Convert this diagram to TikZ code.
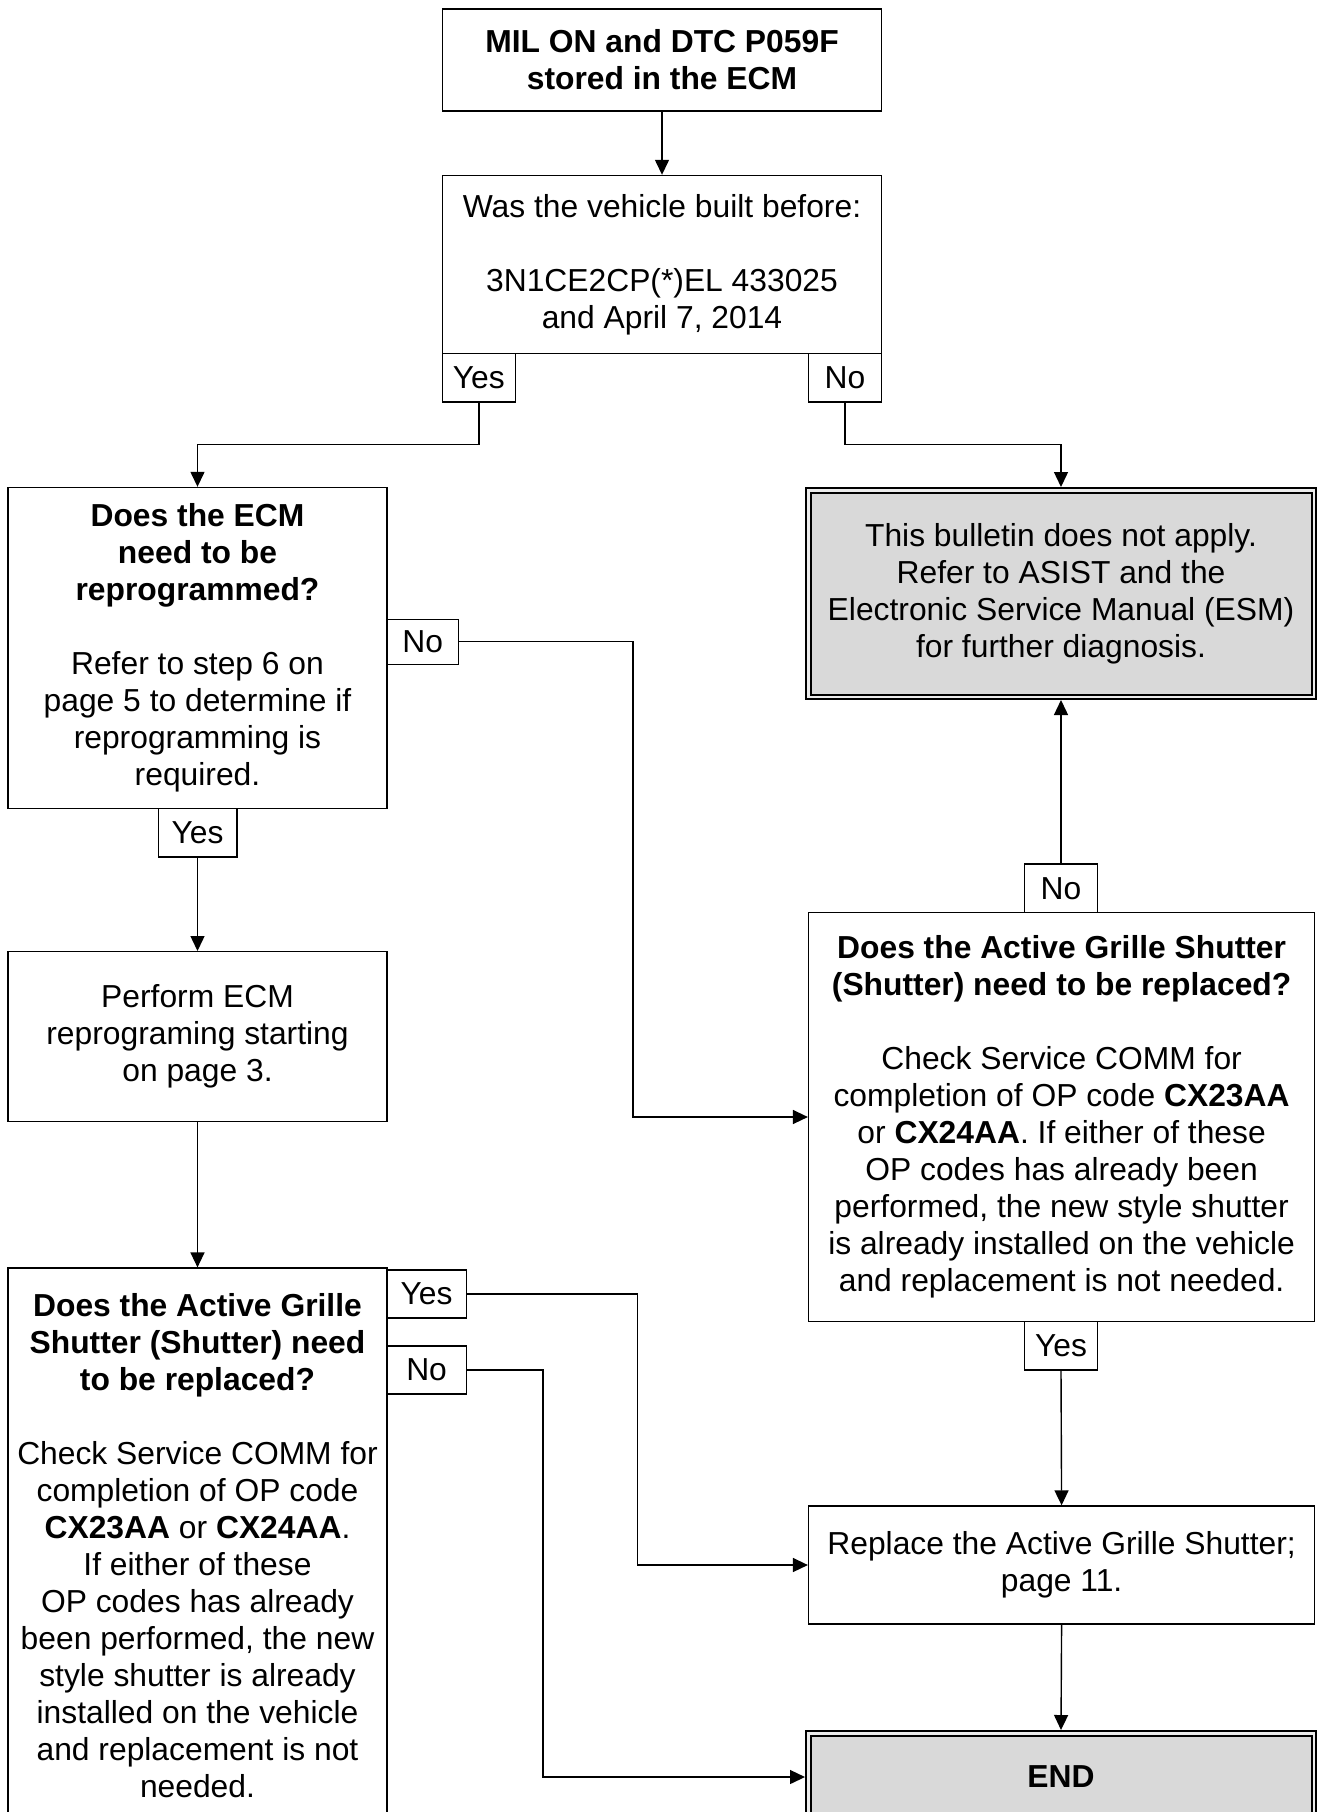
\documentclass[tikz,border=0pt]{standalone}
\usepackage{fontspec}
\setmainfont{Liberation Sans}
\usetikzlibrary{arrows.meta}
\definecolor{boxgray}{RGB}{217,217,217}
\begin{document}
\begin{tikzpicture}[x=1pt,y=-1pt,
  every node/.style={font=\fontsize{31.8}{37}\selectfont},
  bx/.style={draw,line width=1.4pt,rectangle,inner sep=0pt,align=center},
  lbl/.style={draw,line width=1.4pt,rectangle,inner sep=0pt,fill=white},
  gbx/.style={draw,line width=2pt,double=gray!15,double distance=2.5pt,fill=boxgray,inner sep=0pt,align=center,outer sep=3.25pt},
  arr/.style={line width=1.4pt,-{Triangle[length=15pt,width=14pt]}},
  ln/.style={line width=1.4pt}]
\clip (0,0) rectangle (1318,1812);
\fill[white] (0,0) rectangle (1318,1812);
% boxes
\node[bx,minimum width=439,minimum height=102] (top) at (662,60) {\textbf{MIL ON and DTC P059F}\\\textbf{stored in the ECM}};
\node[bx,minimum width=439,minimum height=178] (box2) at (662,264.5) {Was the vehicle built before:\\[37pt]3N1CE2CP(*)EL 433025\\and April 7, 2014};
\node[lbl,minimum width=73,minimum height=48.5] (yes1) at (478.8,377.8) {Yes};
\node[lbl,minimum width=73,minimum height=48.5] (no1) at (845,377.8) {No};
\node[bx,minimum width=379,minimum height=321] (box3) at (197.5,648) {\textbf{Does the ECM}\\\textbf{need to be}\\\textbf{reprogrammed?}\\[37pt]Refer to step 6 on\\page 5 to determine if\\reprogramming is\\required.};
\node[lbl,minimum width=71.6,minimum height=45] (no2) at (422.8,641.7) {No};
\node[lbl,minimum width=78.6,minimum height=48.5] (yes2) at (197.5,832.8) {Yes};
\node[bx,minimum width=379,minimum height=170] (box4) at (197.5,1036.7) {Perform ECM\\reprograming starting\\on page 3.};
\node[bx,minimum width=379,minimum height=555] (box5) at (197.5,1545.6) {\textbf{Does the Active Grille}\\\textbf{Shutter (Shutter) need}\\\textbf{to be replaced?}\\[37pt]Check Service COMM for\\completion of OP code\\\textbf{CX23AA} or \textbf{CX24AA}.\\If either of these\\OP codes has already\\been performed, the new\\style shutter is already\\installed on the vehicle\\and replacement is not\\needed.};
\node[lbl,minimum width=79.6,minimum height=48] (yes5) at (426.6,1294) {Yes};
\node[lbl,minimum width=79.6,minimum height=48] (no5) at (426.6,1370) {No};
\node[gbx,minimum width=505.5,minimum height=206.5] (gbox) at (1061,593.5) {This bulletin does not apply.\\Refer to ASIST and the\\Electronic Service Manual (ESM)\\for further diagnosis.};
\node[bx,minimum width=506,minimum height=409] (box6) at (1061.6,1117) {\textbf{Does the Active Grille Shutter}\\\textbf{(Shutter) need to be replaced?}\\[37pt]Check Service COMM for\\completion of OP code \textbf{CX23AA}\\or \textbf{CX24AA}. If either of these\\OP codes has already been\\performed, the new style shutter\\is already installed on the vehicle\\and replacement is not needed.};
\node[lbl,minimum width=72.7,minimum height=48.5] (no3) at (1061,888.3) {No};
\node[lbl,minimum width=72.7,minimum height=48.5] (yes3) at (1061,1345.7) {Yes};
\node[bx,minimum width=506,minimum height=118] (box7) at (1061.6,1565) {Replace the Active Grille Shutter;\\page 11.};
\node[gbx,minimum width=505.5,minimum height=87.5] (endbox) at (1061,1777) {\textbf{END}};
% helper coordinates
\coordinate (j1) at (0,444.7);
\coordinate (c2) at (633,0);
\coordinate (c3) at (637.6,0);
\coordinate (c4) at (543,0);
% connectors
\draw[arr] (top.south) -- (box2.north);
\draw[arr] (yes1.south) -- (yes1.south |- j1) -| (box3.north);
\draw[arr] (no1.south) -- (no1.south |- j1) -| (gbox.north);
\draw[arr] (no2.east) -- (no2.east -| c2) |- (box6.west);
\draw[arr] (yes2.south) -- (box4.north);
\draw[arr] (box4.south) -- (box5.north);
\draw[arr] (yes5.east) -- (yes5.east -| c3) |- (box7.west);
\draw[arr] (no5.east) -- (no5.east -| c4) |- (endbox.west);
\draw[arr] (no3.north) -- (gbox.south);
\draw[arr] (yes3.south) -- (box7.north);
\draw[arr] (box7.south) -- (endbox.north);
\end{tikzpicture}
\end{document}
